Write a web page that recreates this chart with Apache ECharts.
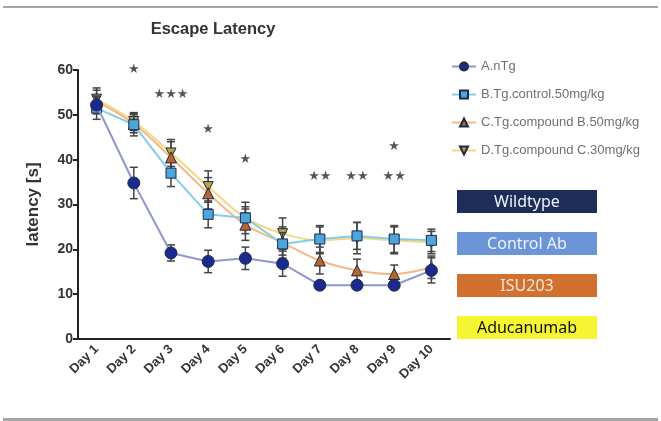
<!DOCTYPE html>
<html>
<head>
<meta charset="utf-8">
<script src="https://cdn.jsdelivr.net/npm/echarts@6/dist/echarts.min.js"></script>
<style>
  html, body { margin: 0; padding: 0; background: #fff; }
  #chart { width: 661px; height: 421px; }
</style>
</head>
<body>
<div id="chart"></div>
<script>
// Morris water maze: escape latency per training day
const days = ['Day 1', 'Day 2', 'Day 3', 'Day 4', 'Day 5', 'Day 6', 'Day 7', 'Day 8', 'Day 9', 'Day 10'];
const yTicks = [0, 10, 20, 30, 40, 50, 60];

const seriesNames = ['A.nTg', 'B.Tg.control.50mg/kg', 'C.Tg.compound B.50mg/kg', 'D.Tg.compound C.30mg/kg'];
const meanA = [52.2, 34.8, 19.2, 17.3, 18.0, 16.8, 12.0, 12.0, 12.0, 15.3];
const meanB = [51.5, 47.8, 37.0, 27.8, 27.0, 21.2, 22.3, 23.0, 22.3, 22.0];
const meanC = [53.0, 48.0, 40.5, 32.5, 25.5, 21.5, 17.5, 15.3, 14.5, 16.0];
const meanD = [53.5, 48.5, 41.5, 34.0, 27.0, 23.5, 22.0, 22.5, 22.0, 21.5];
const semA = [2.0, 3.5, 1.8, 2.5, 2.5, 2.8, 0.8, 0.8, 0.8, 2.8];
const semB = [2.5, 2.5, 3.0, 3.0, 2.5, 2.5, 3.0, 3.0, 3.0, 2.5];
const semC = [2.5, 2.0, 3.5, 3.5, 3.5, 3.5, 3.0, 2.5, 2.0, 2.5];
const semD = [2.5, 2.0, 3.0, 3.5, 3.5, 3.5, 3.0, 3.5, 3.0, 2.5];

// significance marks above the curves
const sigDay = ['Day 2', 'Day 3', 'Day 4', 'Day 5', 'Day 7', 'Day 8', 'Day 9', 'Day 9'];
const sigLevel = [60, 54.4, 46.6, 40.0, 36.2, 36.2, 36.2, 43.0];
const sigText = ['★', '★★★', '★', '★', '★★', '★★', '★★', '★'];

// group key boxes
const groupLabels = ['Wildtype', 'Control Ab', 'ISU203', 'Aducanumab'];

const markerColor = ['#1b2a8c', '#4aa6dc', '#b8642a', '#b9a33a'];
const lineColor = ['#8e98cc', '#86cce8', '#f3b98a', '#f4d882'];
const symbols = ['circle', 'rect', 'triangle', 'triangle'];
const symbolRot = [0, 0, 0, 180];
const symbolSizes = [12, 10, 11, 10];
const means = [meanA, meanB, meanC, meanD];
const sems = [semA, semB, semC, semD];
const zOrder = [8, 7, 6, 5];
const smooth = [false, false, 0.35, 0.35];

const chart = echarts.init(document.getElementById('chart'), null, { renderer: 'canvas' });

const series = [];
means.forEach(function (m, i) {
  series.push({
    name: seriesNames[i],
    type: 'line',
    data: m,
    smooth: smooth[i],
    symbol: symbols[i],
    symbolRotate: symbolRot[i],
    symbolSize: symbolSizes[i],
    z: zOrder[i] + 1,
    lineStyle: { color: lineColor[i], width: 2 },
    itemStyle: { color: markerColor[i], borderColor: '#1f2a4a', borderWidth: 1 },
    emphasis: { disabled: true }
  });
  series.push({
    type: 'custom',
    name: seriesNames[i],
    z: zOrder[i],
    data: m.map(function (v, k) { return [k, v - sems[i][k], v + sems[i][k]]; }),
    renderItem: function (params, api) {
      const x = api.coord([api.value(0), api.value(1)])[0];
      const lo = api.coord([api.value(0), api.value(1)])[1];
      const hi = api.coord([api.value(0), api.value(2)])[1];
      const cap = 4;
      const st = { stroke: '#444', lineWidth: 1.5 };
      return {
        type: 'group',
        children: [
          { type: 'line', shape: { x1: x, y1: lo, x2: x, y2: hi }, style: st },
          { type: 'line', shape: { x1: x - cap, y1: lo, x2: x + cap, y2: lo }, style: st },
          { type: 'line', shape: { x1: x - cap, y1: hi, x2: x + cap, y2: hi }, style: st }
        ]
      };
    },
    encode: { x: 0, y: [1, 2] },
    silent: true
  });
});

series.push({
  type: 'scatter',
  symbolSize: 0,
  silent: true,
  z: 10,
  data: sigDay.map(function (d, i) { return { value: [d, sigLevel[i]], text: sigText[i] }; }),
  label: {
    show: true,
    position: 'inside',
    formatter: function (p) { return p.data.text; },
    color: '#2a2a2a',
    fontSize: 13,
    fontFamily: 'DejaVu Sans'
  }
});

const boxTop = [190, 232, 274, 316];
const boxFill = ['#1d2d57', '#6c95d8', '#d1712f', '#f6f534'];
const boxText = ['#eef2fa', '#eef2fa', '#f6e6d8', '#111'];
const graphics = [
  { type: 'rect', shape: { x: 3, y: 6, width: 655, height: 2 }, style: { fill: '#a5a5a5' }, silent: true },
  { type: 'rect', shape: { x: 3, y: 418, width: 655, height: 4 }, style: { fill: '#a5a5a5' }, silent: true }
];
groupLabels.forEach(function (t, i) {
  graphics.push({
    type: 'group',
    left: 457,
    top: boxTop[i],
    silent: true,
    children: [
      { type: 'rect', shape: { x: 0, y: 0, width: 140, height: 23 }, style: { fill: boxFill[i] } },
      { type: 'text', x: 70, y: 12, style: { text: t, fill: boxText[i], font: '16px "Noto Sans"', align: 'center', verticalAlign: 'middle' } }
    ]
  });
});

chart.setOption({
  animation: false,
  backgroundColor: '#fff',
  title: {
    text: 'Escape Latency',
    left: 208,
    top: 16,
    textAlign: 'center',
    textStyle: { fontFamily: 'Liberation Sans, Arial', fontWeight: 'bold', fontSize: 16.5, color: '#333' }
  },
  legend: {
    orient: 'vertical',
    left: 446,
    top: 55,
    itemWidth: 24,
    itemHeight: 10,
    itemGap: 15,
    data: seriesNames,
    textStyle: { color: '#707070', fontSize: 13, fontFamily: 'Liberation Sans, Arial' },
    selectedMode: false
  },
  grid: { left: 78, right: 211, top: 70, bottom: 82 },
  xAxis: {
    type: 'category',
    data: days,
    boundaryGap: true,
    axisLine: { lineStyle: { color: '#222', width: 2 } },
    axisTick: { alignWithLabel: true, length: 6, lineStyle: { color: '#222', width: 2 } },
    axisLabel: { rotate: 45, color: '#333', fontWeight: 'bold', fontSize: 13, fontFamily: 'Liberation Sans, Arial', margin: 8 }
  },
  yAxis: {
    type: 'value',
    min: yTicks[0],
    max: yTicks[yTicks.length - 1],
    interval: 10,
    name: 'latency [s]',
    nameLocation: 'middle',
    nameGap: 36,
    nameTextStyle: { color: '#333', fontWeight: 'bold', fontSize: 17, fontFamily: 'Liberation Sans, Arial' },
    splitLine: { show: false },
    axisLine: { show: true, lineStyle: { color: '#222', width: 2 } },
    axisTick: { show: true, length: 5, lineStyle: { color: '#222', width: 2 } },
    axisLabel: { color: '#333', fontWeight: 'bold', fontSize: 14, fontFamily: 'Liberation Sans, Arial', margin: 5 }
  },
  graphic: graphics,
  series: series
});
</script>
</body>
</html>
